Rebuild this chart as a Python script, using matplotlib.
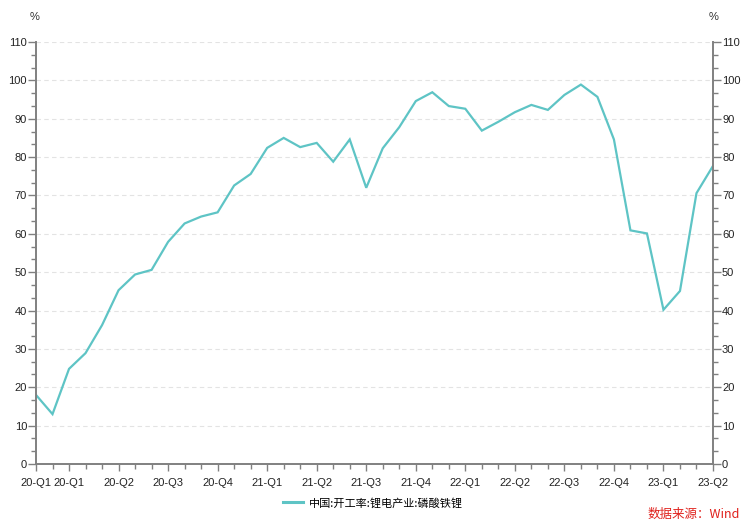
import matplotlib
matplotlib.use("Agg")
import matplotlib.pyplot as plt
from matplotlib.ticker import MultipleLocator, FixedLocator
from matplotlib.lines import Line2D

plt.rcParams['font.family'] = ['Liberation Sans', 'Noto Sans CJK SC', 'DejaVu Sans']

# monthly data, Jan 2020 .. Jun 2023
values = [18.0, 13.0, 24.8, 28.9, 36.2, 45.3, 49.4, 50.6, 57.9, 62.7, 64.5, 65.6,
          72.6, 75.6, 82.4, 85.0, 82.6, 83.7, 78.8, 84.6, 72.0, 82.3, 87.8, 94.6,
          96.9, 93.3, 92.6, 86.9, 89.2, 91.7, 93.6, 92.3, 96.2, 98.9, 95.7, 84.6,
          60.9, 60.1, 40.2, 45.1, 70.6, 77.7]
tick_months = [0, 2, 5, 8, 11, 14, 17, 20, 23, 26, 29, 32, 35, 38, 41]
tick_labels = ["20-Q1", "20-Q1", "20-Q2", "20-Q3", "20-Q4", "21-Q1", "21-Q2", "21-Q3",
               "21-Q4", "22-Q1", "22-Q2", "22-Q3", "22-Q4", "23-Q1", "23-Q2"]
series_name = "中国:开工率:锂电产业:磷酸铁锂"
source_text = "数据来源：Wind"

W, H = 741, 522
fig = plt.figure(figsize=(W / 100, H / 100), dpi=100)
ax = fig.add_axes([36 / W, 1 - 464 / H, (713 - 36) / W, (464 - 42) / H])

line_color = "#5EC4C5"
axis_color = "#808080"
x = list(range(len(values)))
ax.plot(x, values, color=line_color, lw=1.6, solid_joinstyle='miter')

ax.set_xlim(0, len(values) - 1)
ax.set_ylim(0, 110)
ax.yaxis.set_major_locator(MultipleLocator(10))
ax.yaxis.set_minor_locator(MultipleLocator(10 / 3))
ax.xaxis.set_major_locator(FixedLocator(tick_months))
ax.xaxis.set_minor_locator(MultipleLocator(1))
ax.set_xticklabels(tick_labels)

ax.grid(axis='y', which='major', color='#E3E3E3', linestyle=(0, (4, 3)), lw=0.8)
ax.set_axisbelow(True)

ax.spines['top'].set_visible(False)
for s in ['left', 'right', 'bottom']:
    ax.spines[s].set_color(axis_color)
    ax.spines[s].set_linewidth(1.4)

ax.tick_params(axis='y', which='major', length=6, width=1, color=axis_color,
               labelsize=8, labelcolor='#222222', pad=0.5, right=True, labelright=True)
ax.tick_params(axis='y', which='minor', length=3.5, width=1, color=axis_color, right=True)
ax.tick_params(axis='x', which='major', length=5, width=1, color=axis_color,
               labelsize=8, labelcolor='#222222', pad=5)
ax.tick_params(axis='x', which='minor', length=3.5, width=1, color=axis_color)

fig.text(35 / W, 1 - 17 / H, "%", ha='center', va='center', fontsize=8, color='#333333')
fig.text(714 / W, 1 - 17 / H, "%", ha='center', va='center', fontsize=8, color='#333333')

handle = Line2D([], [], color=line_color, lw=2.2)
fig.legend([handle], [series_name], loc='center', bbox_to_anchor=(373 / W, 1 - 503 / H),
           frameon=False, handlelength=1.8, handletextpad=0.5,
           prop={'family': ['Noto Sans CJK SC', 'DejaVu Sans'], 'size': 8})

fig.text(740 / W, 1 - 514 / H, source_text, ha='right', va='center', fontsize=9,
         color='#E0201B', family=['Noto Sans CJK SC', 'DejaVu Sans'])

fig.savefig("out.png", dpi=100)
